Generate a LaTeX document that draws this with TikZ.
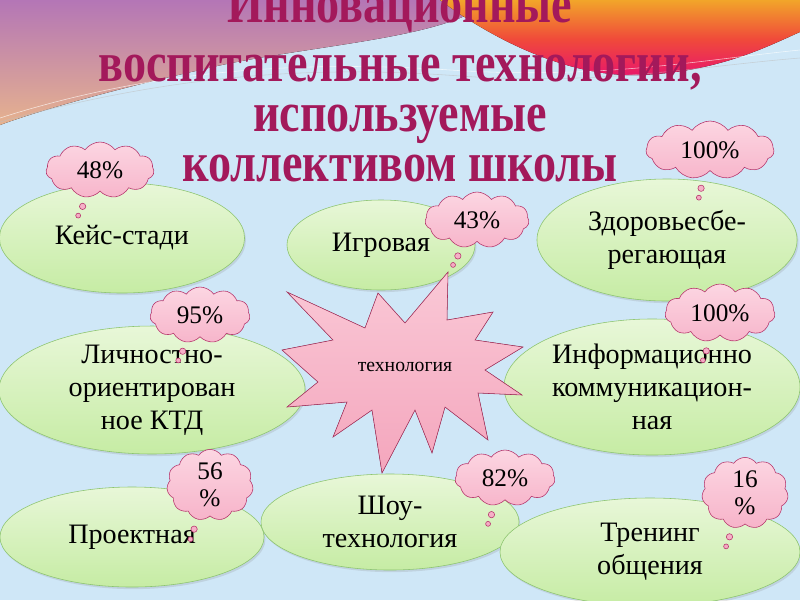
\documentclass[tikz,border=0pt]{standalone}
\usepackage{graphicx}
\usepackage{xcolor}
\usepackage{fontspec}
\setmainfont{Liberation Serif}
\usetikzlibrary{shapes.geometric,shapes.symbols,shapes.callouts,shadows}

\definecolor{fonblue}{HTML}{CFE7F7}
\definecolor{titlered}{HTML}{A3195B}
\definecolor{leafgreen}{HTML}{C6ECA4}
\definecolor{leaflight}{HTML}{E8F7D8}
\definecolor{leafedge}{HTML}{8CC46E}
\definecolor{cloudpink}{HTML}{F5A9C2}
\definecolor{cloudlight}{HTML}{FCD6E2}
\definecolor{cloudedge}{HTML}{B5336A}
\definecolor{starpink}{HTML}{F4A6BD}
\definecolor{starlight}{HTML}{FAC8D6}
\definecolor{staredge}{HTML}{A8325E}
\definecolor{wavepurple}{HTML}{B476B6}
\definecolor{wavepeach}{HTML}{E6B28E}
\definecolor{waveorange}{HTML}{F2A52A}
\definecolor{wavered}{HTML}{F04A3A}
\definecolor{wavemagenta}{HTML}{E8146E}

\newcommand{\zagline}[1]{\scalebox{0.82}[1]{#1}}

\tikzset{
	tech/.style={ellipse, draw=leafedge, thin, top color=leaflight, bottom color=leafgreen,
		drop shadow={opacity=0.2, shadow xshift=1pt, shadow yshift=-1.5pt},
		align=center, inner sep=0pt, font=\fontsize{20}{23.5}\selectfont},
	percent/.style={cloud callout, cloud puffs=11, cloud puff arc=110, aspect=1.9, draw=cloudedge, thin,
		top color=cloudlight, bottom color=cloudpink, align=center, inner sep=0pt,
		callout pointer segments=2, callout pointer start size=7pt and 5.5pt, callout pointer end size=4.5pt and 3.5pt,
		font=\fontsize{18}{19}\selectfont},
	zag/.style={anchor=base, inner sep=0pt, text depth=0pt, text=titlered, font=\fontsize{40}{40}\selectfont\bfseries},
}

\begin{document}
\begin{tikzpicture}[x=0.025cm, y=-0.025cm]
	\useasboundingbox (0,0) rectangle (800,600);
	\clip (0,0) rectangle (800,600);
	
	% background and top waves
	\fill[fonblue] (0,0) rectangle (800,600);
	\fill[top color=wavepurple, bottom color=wavepeach] (0,0) -- (490,0)
		.. controls (450,40) and (300,45) .. (200,70)
		.. controls (120,88) and (40,110) .. (0,125) -- cycle;
	\fill[top color=waveorange, bottom color=wavemagenta, middle color=wavered] (440,0)
		.. controls (480,30) and (560,78) .. (640,75)
		.. controls (720,72) and (770,45) .. (800,32) -- (800,0) -- cycle;
	\draw[white, opacity=0.7, thin] (0,118) .. controls (150,70) and (300,60) .. (450,70)
		.. controls (600,80) and (700,60) .. (800,50);
	\draw[gray!50, opacity=0.6, thin] (0,122) .. controls (160,78) and (300,64) .. (460,76)
		.. controls (600,86) and (700,66) .. (800,58);
	
	% title
	\node[zag] (titleA) at (400,22) {\zagline{Инновационные}};
	\node[zag] (titleB) at (400,81) {\zagline{воспитательные технологии,}};
	\node[zag] (titleC) at (400,131) {\zagline{используемые}};
	\node[zag] (titleD) at (400,181) {\zagline{коллективом школы}};
	
	% technologies
	\node[tech, minimum width=6.125cm, minimum height=2.75cm] (kejs) at (122,238) {Кейс-стади};
	\node[tech, minimum width=4.7cm, minimum height=2.25cm] (igrovaya) at (381,245) {Игровая};
	\node[tech, minimum width=6.5cm, minimum height=3.05cm] (zdorov) at (667,240) {Здоровьесбе-\\регающая};
	\node[tech, minimum width=7.65cm, minimum height=3.05cm] (lichn) at (152,390) {Личностно-\\ориентирован\\ное КТД};
	\node[tech, minimum width=7.4cm, minimum height=3.4cm] (inform) at (652,387) {Информационно\\коммуникацион-\\ная};
	\node[tech, minimum width=6.6cm, minimum height=2.5cm] (proekt) at (132,537) {Проектная};
	\node[tech, minimum width=6.45cm, minimum height=2.4cm] (shou) at (390,522) {Шоу-\\технология};
	\node[tech, minimum width=7.5cm, minimum height=2.7cm] (trening) at (650,552) {Тренинг\\общения};
	
	% the star in the middle
	\filldraw[draw=staredge, thin, top color=starlight, bottom color=starpink]
		(287,292) -- (365,328) -- (378,293) -- (405,323) -- (448,272) -- (447,320)
		-- (493,312) -- (475,340) -- (523,347) -- (485,370) -- (522,395) -- (478,393)
		-- (488,440) -- (445,407) -- (432,453) -- (415,410) -- (382,473) -- (372,410)
		-- (333,437) -- (347,402) -- (287,407) -- (318,382) -- (282,350) -- (333,340) -- cycle;
	\node[font=\fontsize{14}{16}\selectfont] (center) at (405,367) {технология};
	
	% percents
	\node[percent, minimum width=2.7cm, minimum height=1.4cm, callout relative pointer={(-0.22cm,-0.46cm)}] (p48) at (100,170) {48\%};
	\node[percent, minimum width=3.2cm, minimum height=1.45cm, callout relative pointer={(-0.11cm,-0.47cm)}] (p100a) at (710,150) {100\%};
	\node[percent, minimum width=2.6cm, minimum height=1.4cm, callout relative pointer={(-0.24cm,-0.45cm)}] (p43) at (477,220) {43\%};
	\node[percent, minimum width=2.5cm, minimum height=1.4cm, callout relative pointer={(-0.22cm,-0.46cm)}] (p95) at (200,315) {95\%};
	\node[percent, minimum width=2.75cm, minimum height=1.45cm, callout relative pointer={(-0.17cm,-0.47cm)}] (p100b) at (720,313) {100\%};
	\node[percent, aspect=1.3, minimum width=2.05cm, minimum height=1.6cm, callout relative pointer={(-0.18cm,-0.5cm)}] (p56) at (210,485) {56\\\%};
	\node[percent, minimum width=2.5cm, minimum height=1.4cm, callout relative pointer={(-0.17cm,-0.46cm)}] (p82) at (505,478) {82\%};
	\node[percent, aspect=1.3, minimum width=2cm, minimum height=1.5cm, callout relative pointer={(-0.17cm,-0.48cm)}] (p16) at (745,493) {16\\\%};
\end{tikzpicture}
\end{document}
